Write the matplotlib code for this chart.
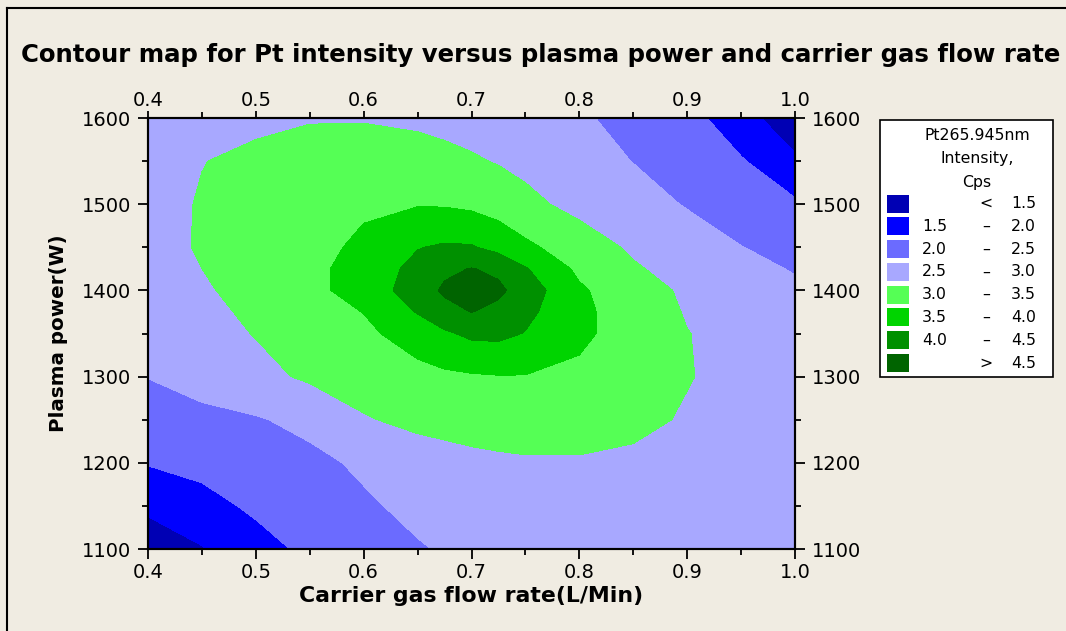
import matplotlib
matplotlib.use("Agg")
import matplotlib.pyplot as plt
from matplotlib.patches import Rectangle
from matplotlib.ticker import MultipleLocator, FormatStrFormatter
import numpy as np

# grid: carrier gas flow rate (L/Min) x plasma power (W)
flow = [0.40, 0.45, 0.50, 0.55, 0.60, 0.65, 0.675, 0.70, 0.725, 0.75, 0.80, 0.85, 0.90, 0.95, 1.00]
power = [1100, 1150, 1200, 1250, 1300, 1350, 1375, 1400, 1425, 1450, 1500, 1550, 1600]

# Pt intensity (Cps), one row per power value, bottom to top
intensity = [
    [1.20, 1.47, 1.83, 2.10, 2.28, 2.46, 2.54, 2.62, 2.66, 2.70, 2.75, 2.77, 2.76, 2.74, 2.72],
    [1.60, 1.85, 2.08, 2.25, 2.43, 2.62, 2.69, 2.75, 2.79, 2.82, 2.85, 2.85, 2.82, 2.78, 2.74],
    [2.03, 2.13, 2.24, 2.38, 2.58, 2.75, 2.82, 2.88, 2.92, 2.95, 2.96, 2.92, 2.86, 2.80, 2.76],
    [2.30, 2.38, 2.46, 2.63, 2.96, 3.12, 3.16, 3.20, 3.22, 3.22, 3.18, 3.10, 2.96, 2.85, 2.80],
    [2.51, 2.68, 2.87, 3.07, 3.22, 3.35, 3.41, 3.45, 3.48, 3.48, 3.40, 3.25, 3.02, 2.88, 2.85],
    [2.68, 2.83, 3.02, 3.22, 3.40, 3.72, 3.93, 4.10, 4.12, 3.98, 3.60, 3.28, 3.01, 2.87, 2.75],
    [2.75, 2.89, 3.08, 3.29, 3.51, 4.03, 4.33, 4.51, 4.36, 4.12, 3.62, 3.24, 2.97, 2.81, 2.67],
    [2.82, 2.95, 3.14, 3.37, 3.70, 4.25, 4.58, 4.75, 4.60, 4.27, 3.57, 3.19, 2.93, 2.75, 2.58],
    [2.86, 3.00, 3.17, 3.37, 3.71, 4.14, 4.40, 4.52, 4.40, 4.04, 3.40, 3.05, 2.83, 2.63, 2.47],
    [2.88, 3.03, 3.18, 3.34, 3.60, 3.98, 4.06, 4.04, 3.85, 3.60, 3.24, 2.93, 2.72, 2.51, 2.35],
    [2.85, 3.03, 3.20, 3.33, 3.42, 3.47, 3.46, 3.40, 3.28, 3.12, 2.86, 2.68, 2.47, 2.27, 2.08],
    [2.80, 2.99, 3.08, 3.18, 3.22, 3.17, 3.12, 3.05, 2.97, 2.88, 2.69, 2.49, 2.26, 2.05, 1.55],
    [2.70, 2.82, 2.92, 2.97, 2.97, 2.92, 2.87, 2.82, 2.76, 2.70, 2.56, 2.36, 2.22, 1.62, 1.30],
]

levels = [0.0, 1.5, 2.0, 2.5, 3.0, 3.5, 4.0, 4.5, 9.0]
level_colors = ['#0000b4', '#0000ff', '#6b6bff', '#a8a8ff',
                '#55ff55', '#00d400', '#009000', '#006400']
legend_rows = [('', '<', '1.5'), ('1.5', '–', '2.0'), ('2.0', '–', '2.5'),
               ('2.5', '–', '3.0'), ('3.0', '–', '3.5'), ('3.5', '–', '4.0'),
               ('4.0', '–', '4.5'), ('', '>', '4.5')]

bg = '#f0ece2'
W, H = 1066, 631

fig = plt.figure(figsize=(W / 100, H / 100), dpi=100, facecolor=bg)
ax = fig.add_axes([148 / W, 1 - 549 / H, (795 - 148) / W, (549 - 118) / H])

X, Y = np.meshgrid(flow, power)
Z = np.array(intensity)
ax.contourf(X, Y, Z, levels=levels, colors=level_colors)

ax.set_xlim(0.4, 1.0)
ax.set_ylim(1100, 1600)
ax.xaxis.set_major_locator(MultipleLocator(0.1))
ax.xaxis.set_minor_locator(MultipleLocator(0.05))
ax.yaxis.set_major_locator(MultipleLocator(100))
ax.yaxis.set_minor_locator(MultipleLocator(50))
ax.xaxis.set_major_formatter(FormatStrFormatter('%.1f'))
ax.tick_params(which='both', direction='out', top=False, right=True,
               labelright=True, width=1.3, colors='black', labelsize=14)
ax.tick_params(axis='x', which='major', length=7, pad=3)
ax.tick_params(axis='y', which='major', length=7, pad=5)
ax.tick_params(which='minor', length=4)
for sp in ax.spines.values():
    sp.set_linewidth(1.5)

# top scale sits closer to the frame, so it gets its own axis
top = ax.twiny()
top.set_xlim(ax.get_xlim())
top.xaxis.set_major_locator(MultipleLocator(0.1))
top.xaxis.set_minor_locator(MultipleLocator(0.05))
top.xaxis.set_major_formatter(FormatStrFormatter('%.1f'))
top.tick_params(which='both', direction='out', width=1.3, labelsize=14)
top.tick_params(which='major', length=5, pad=1)
top.tick_params(which='minor', length=4)
for sp in top.spines.values():
    sp.set_linewidth(1.5)

ax.set_xlabel('Carrier gas flow rate(L/Min)', fontsize=15.8, fontweight='bold', labelpad=3)
ax.set_ylabel('Plasma power(W)', fontsize=14.3, fontweight='bold', labelpad=10)

fig.text(541 / W, 1 - 55 / H,
         'Contour map for Pt intensity versus plasma power and carrier gas flow rate',
         ha='center', va='center', fontsize=17.6, fontweight='bold')

# frame lines round the picture
fig.add_artist(plt.Line2D([7 / W, 7 / W], [0, 1 - 8 / H], color='black', lw=1.5,
                          transform=fig.transFigure))
fig.add_artist(plt.Line2D([7 / W, 1], [1 - 8 / H, 1 - 8 / H], color='black', lw=1.5,
                          transform=fig.transFigure))

# legend drawn by hand, like the Minitab key
fig.add_artist(Rectangle((880 / W, 1 - 377 / H), 173 / W, 257 / H, facecolor='white',
                         edgecolor='black', lw=1.2, transform=fig.transFigure))
for k, line in enumerate(['Pt265.945nm', 'Intensity,', 'Cps']):
    fig.text(977 / W, 1 - (135 + 23.5 * k) / H, line, ha='center', va='center', fontsize=11.3)
for i, (lo, sym, hi) in enumerate(legend_rows):
    yc = 203.5 + 22.8 * i
    fig.add_artist(Rectangle((887 / W, 1 - (yc + 9) / H), 22 / W, 18 / H,
                             facecolor=level_colors[i], edgecolor='none',
                             transform=fig.transFigure))
    fig.text(947 / W, 1 - yc / H, lo, ha='right', va='center', fontsize=11.3)
    fig.text(986 / W, 1 - yc / H, sym, ha='center', va='center', fontsize=11.3)
    fig.text(1036 / W, 1 - yc / H, hi, ha='right', va='center', fontsize=11.3)

fig.savefig('out.png', dpi=100, facecolor=bg)
